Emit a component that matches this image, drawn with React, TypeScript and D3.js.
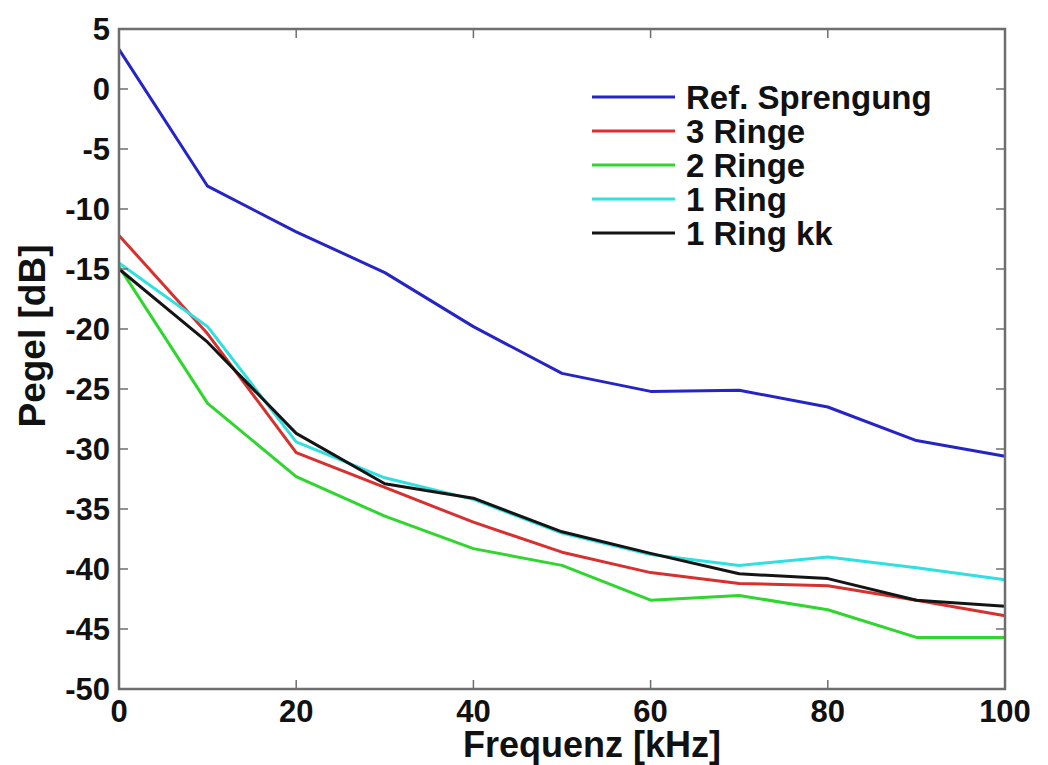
import React from "react";
import * as d3 from "d3";

const freq = [0, 10, 20, 30, 40, 50, 60, 70, 80, 90, 100];

const refSprengung = [3.3, -8.1, -11.9, -15.3, -19.8, -23.7, -25.2, -25.1, -26.5, -29.3, -30.6];
const ringe3 = [-12.2, -20.4, -30.3, -33.2, -36.1, -38.6, -40.3, -41.2, -41.4, -42.6, -43.9];
const ringe2 = [-14.8, -26.2, -32.3, -35.6, -38.3, -39.7, -42.6, -42.2, -43.4, -45.7, -45.7];
const ring1 = [-14.5, -19.8, -29.4, -32.4, -34.2, -37.0, -38.8, -39.7, -39.0, -39.9, -40.9];
const ring1kk = [-15.0, -21.1, -28.7, -32.9, -34.1, -36.9, -38.7, -40.4, -40.8, -42.6, -43.1];

const seriesNames = ["Ref. Sprengung", "3 Ringe", "2 Ringe", "1 Ring", "1 Ring kk"];
const seriesColors = ["#2424c8", "#d8302e", "#2ed62e", "#2ee0e0", "#141414"];
const seriesValues = [refSprengung, ringe3, ringe2, ring1, ring1kk];

const xTicks = [0, 20, 40, 60, 80, 100];
const yTicks = [5, 0, -5, -10, -15, -20, -25, -30, -35, -40, -45, -50];

const W = 1048;
const H = 765;
const left = 119;
const right = 1005;
const top = 29;
const bottom = 689;

const font = "'Liberation Sans', Arial, sans-serif";

export default function App() {
  const x = d3.scaleLinear().domain([0, 100]).range([left, right]);
  const y = d3.scaleLinear().domain([-50, 5]).range([bottom, top]);

  const line = d3
    .line<number>()
    .x((_, i) => x(freq[i]))
    .y((d) => y(d));

  const axisColor = "#6e6e6e";

  return (
    <svg
      width={W}
      height={H}
      style={{ position: "absolute", left: 0, top: 0, background: "#fff" }}
    >
      {/* series */}
      {seriesValues.map((vals, i) => (
        <path
          key={seriesNames[i]}
          d={line(vals) || ""}
          fill="none"
          stroke={seriesColors[i]}
          strokeWidth={3}
          strokeLinejoin="round"
        />
      ))}

      {/* axes box */}
      <rect
        x={left}
        y={top}
        width={right - left}
        height={bottom - top}
        fill="none"
        stroke={axisColor}
        strokeWidth={2.5}
      />

      {/* x ticks */}
      {xTicks.map((t) => (
        <g key={"x" + t}>
          <line x1={x(t)} x2={x(t)} y1={bottom} y2={bottom - 9} stroke={axisColor} strokeWidth={1.5} />
          <line x1={x(t)} x2={x(t)} y1={top} y2={top + 9} stroke={axisColor} strokeWidth={1.5} />
          <text
            x={x(t)}
            y={722}
            textAnchor="middle"
            fontFamily={font}
            fontWeight="bold"
            fontSize={31}
            fill="#111"
          >
            {t}
          </text>
        </g>
      ))}

      {/* y ticks */}
      {yTicks.map((t) => (
        <g key={"y" + t}>
          <line x1={left} x2={left + 9} y1={y(t)} y2={y(t)} stroke={axisColor} strokeWidth={1.5} />
          <line x1={right} x2={right - 9} y1={y(t)} y2={y(t)} stroke={axisColor} strokeWidth={1.5} />
          <text
            x={110}
            y={y(t)}
            dy="0.36em"
            textAnchor="end"
            fontFamily={font}
            fontWeight="bold"
            fontSize={31}
            fill="#111"
          >
            {t}
          </text>
        </g>
      ))}

      {/* axis titles */}
      <text
        x={592}
        y={757}
        textAnchor="middle"
        fontFamily={font}
        fontWeight="bold"
        fontSize={36}
        fill="#111"
      >
        Frequenz [kHz]
      </text>
      <text
        transform="translate(45,336) rotate(-90)"
        textAnchor="middle"
        fontFamily={font}
        fontWeight="bold"
        fontSize={37}
        fill="#111"
      >
        Pegel [dB]
      </text>

      {/* legend */}
      {seriesNames.map((name, i) => {
        const ly = 97 + i * 34;
        return (
          <g key={"leg" + name}>
            <line x1={592} x2={675} y1={ly} y2={ly} stroke={seriesColors[i]} strokeWidth={3} />
            <text
              x={686}
              y={ly}
              dy="0.36em"
              fontFamily={font}
              fontWeight="bold"
              fontSize={33}
              fill="#111"
            >
              {name}
            </text>
          </g>
        );
      })}
    </svg>
  );
}
